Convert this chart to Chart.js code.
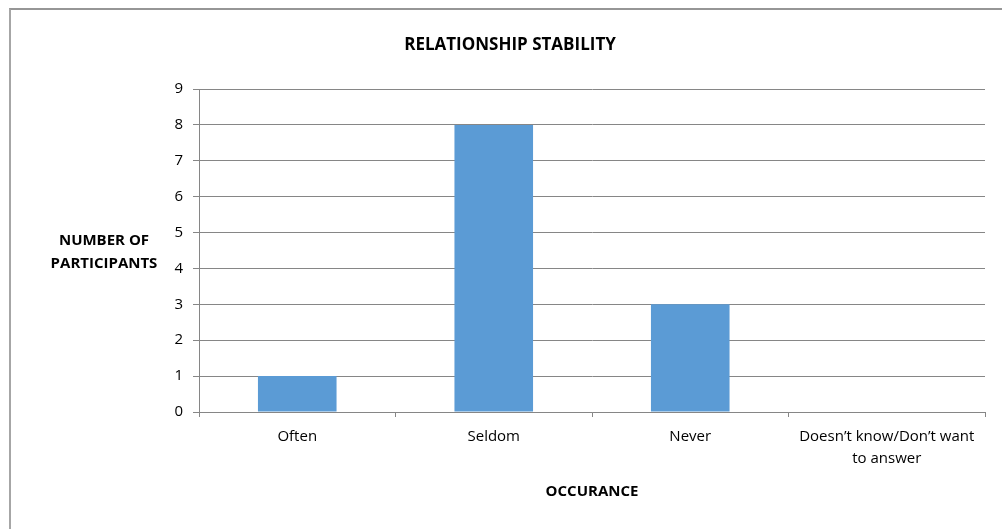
<!DOCTYPE html>
<html>
<head>
<meta charset="utf-8">
<script src="https://cdn.jsdelivr.net/npm/chart.js@4"></script>
<style>
  html, body { margin: 0; padding: 0; background: #fff; overflow: hidden; }
  #wrap { position: relative; width: 1002px; height: 529px; }
  #frame { position: absolute; left: 9px; top: 8px; width: 1100px; height: 600px;
           border-left: 2px solid #a6a6a6; border-top: 2px solid #969696; }
  canvas { position: absolute; left: 0; top: 0; }
</style>
</head>
<body>
<div id="wrap">
  <div id="frame"></div>
  <canvas id="myChart" width="1002" height="529"></canvas>
</div>
<script>
// ------------- data ----------------
const categories = ["Often", "Seldom", "Never", ["Doesn\u2019t know/Don\u2019t want", "to answer"]];
const participants = [1, 8, 3, 0];
const yTicks = [0, 1, 2, 3, 4, 5, 6, 7, 8, 9];

const FONT = "'Open Sans', 'Noto Sans', sans-serif";

// titles drawn by hand so the y title can stay horizontal
const titlesPlugin = {
  id: "titles",
  afterDraw(chart) {
    const c = chart.ctx;
    const area = chart.chartArea;
    c.save();
    c.fillStyle = "#000";
    c.textAlign = "center";
    c.textBaseline = "middle";
    c.font = "bold 17px " + FONT;
    c.fillText("RELATIONSHIP STABILITY", 510, 45);
    c.font = "bold 15px " + FONT;
    c.fillText("OCCURANCE", (area.left + area.right) / 2, 492);
    c.fillText("NUMBER OF", 104, 241);
    c.fillText("PARTICIPANTS", 104, 264);
    c.restore();
  },
};

document.addEventListener("DOMContentLoaded", () => {
  const ctx = document.getElementById("myChart");
  new Chart(ctx, {
    type: "bar",
    data: {
      labels: categories,
      datasets: [
        {
          label: "Participants",
          data: participants,
          backgroundColor: "#5B9BD5",
          borderWidth: 0,
          barPercentage: 0.4,
          categoryPercentage: 1.0,
        },
      ],
    },
    options: {
      responsive: false,
      animation: false,
      layout: { padding: { left: 0, top: 89, right: 17, bottom: 0 } },
      plugins: {
        legend: { display: false },
        tooltip: { enabled: false },
      },
      scales: {
        x: {
          offset: true,
          grid: {
            offset: true,
            drawOnChartArea: false,
            drawTicks: true,
            tickLength: 5,
            color: "#868686",
          },
          border: { color: "#868686" },
          ticks: {
            color: "#000",
            padding: 9,
            maxRotation: 0,
            font: { family: FONT, size: 15, lineHeight: 1.45 },
          },
          afterFit(scale) { scale.height = 117; },
        },
        y: {
          min: 0,
          max: 9,
          afterBuildTicks(scale) { scale.ticks = yTicks.map(v => ({ value: v })); },
          grid: { color: "#868686", tickLength: 6 },
          border: { color: "#868686" },
          ticks: {
            color: "#000",
            padding: 10,
            font: { family: FONT, size: 15 },
          },
          afterFit(scale) { scale.width = 199; },
        },
      },
    },
    plugins: [titlesPlugin],
  });
});
</script>
</body>
</html>
